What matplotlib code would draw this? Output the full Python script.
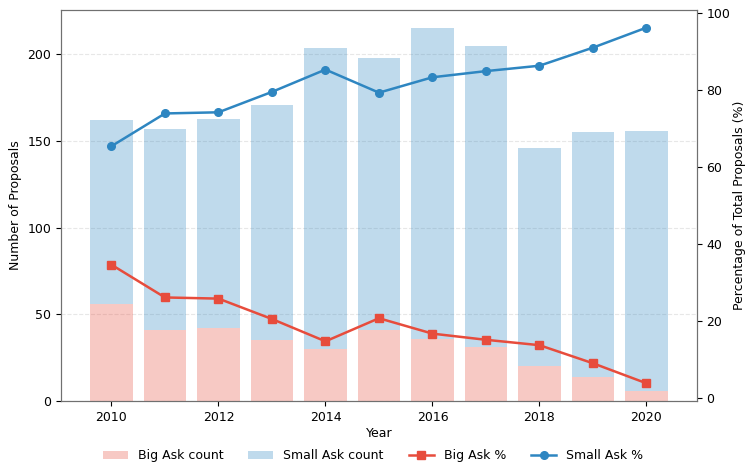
import matplotlib.pyplot as plt
import numpy as np

years = [2010, 2011, 2012, 2013, 2014, 2015, 2016, 2017, 2018, 2019, 2020]
total_count = [162, 157, 163, 171, 204, 198, 215, 205, 146, 155, 156]
big_count = [56, 41, 42, 35, 30, 41, 36, 31, 20, 14, 6]

big_pct = [34.6, 26.1, 25.8, 20.5, 14.7, 20.7, 16.7, 15.1, 13.7, 9.0, 3.8]
small_pct = [65.4, 73.9, 74.2, 79.5, 85.3, 79.3, 83.3, 84.9, 86.3, 91.0, 96.2]

red = "#e74c3c"
blue = "#2e86c1"

plt.rcParams.update({"font.size": 9})

x = np.array(years)
big = np.array(big_count)
small = np.array(total_count) - big

fig, ax = plt.subplots(figsize=(7.46, 4.68), dpi=100)
ax.bar(x, big, 0.8, color=red, alpha=0.3, label="Big Ask count")
ax.bar(x, small, 0.8, bottom=big, color=blue, alpha=0.3, label="Small Ask count")
ax.set_xlabel("Year", labelpad=2)
ax.set_ylabel("Number of Proposals")
ax.grid(True, axis="y", linestyle="--", alpha=0.3)
ax.set_axisbelow(True)

ax2 = ax.twinx()
ax2.plot(x, big_pct, color=red, marker="s", linewidth=1.8, markersize=5.5, label="Big Ask %")
ax2.plot(x, small_pct, color=blue, marker="o", linewidth=1.8, markersize=5.5, label="Small Ask %")
ax2.set_ylabel("Percentage of Total Proposals (%)", labelpad=2)

for a in (ax, ax2):
    for s in a.spines.values():
        s.set_color("#707070")

h1, l1 = ax.get_legend_handles_labels()
h2, l2 = ax2.get_legend_handles_labels()
fig.legend(h1 + h2, l1 + l2, loc="lower center", bbox_to_anchor=(0.5, -0.012),
           ncol=4, frameon=False)

fig.subplots_adjust(left=0.082, right=0.934, top=0.979, bottom=0.143)
fig.savefig("out.png")
